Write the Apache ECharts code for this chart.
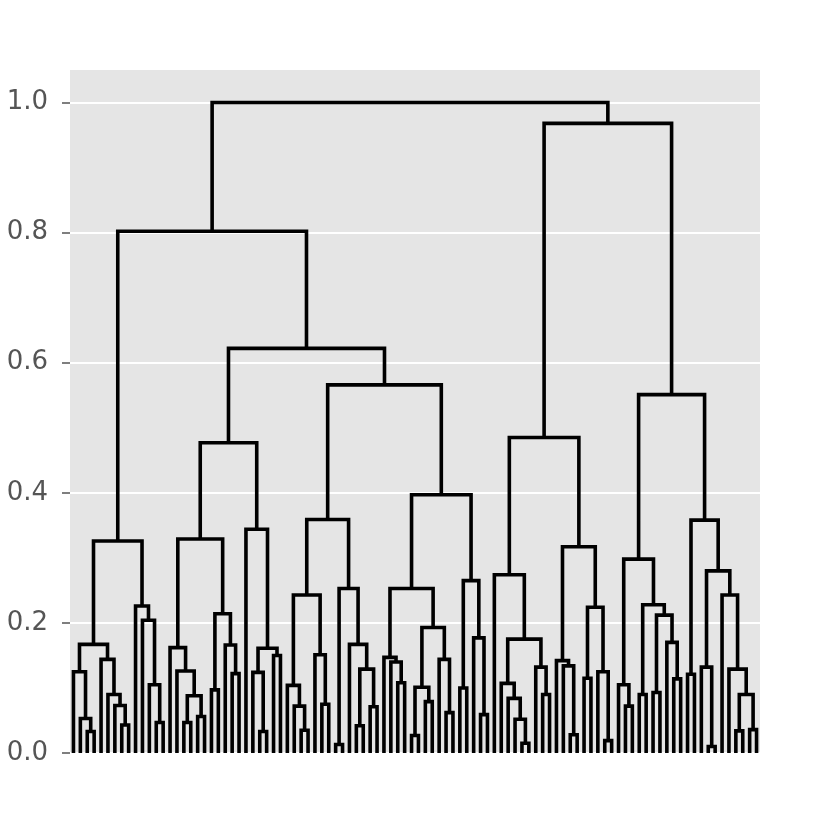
<!DOCTYPE html>
<html>
<head>
<meta charset="utf-8">
<script src="https://cdn.jsdelivr.net/npm/echarts@6/dist/echarts.min.js"></script>
<style>html,body{margin:0;padding:0;background:#fff;}#chart{width:830px;height:822px;}</style>
</head>
<body>
<div id="chart"></div>
<script>
// Dendrogram: 100 leaves (ids 0..99), merges create ids 100..198 in order.
const leafCount = 100;
const mergeLeft = [2,1,0,7,6,5,4,102,12,11,10,9,107,
  16,18,113,15,14,20,23,22,118,117,27,26,29,124,25,122,
  33,32,31,36,35,131,38,41,43,136,40,135,134,
  47,46,45,49,51,145,54,53,147,144,56,59,58,152,151,141,128,112,
  65,64,63,62,68,67,163,61,72,71,70,74,77,76,171,170,167,
  80,79,82,84,87,86,180,179,178,89,92,91,96,98,189,95,94,188,186,185,176,159];
const mergeRight = [3,100,101,8,103,104,105,106,13,108,109,110,111,
  17,19,114,115,116,21,24,119,120,121,28,123,30,125,126,127,
  34,129,130,37,132,133,39,42,44,137,138,139,140,
  48,142,143,50,52,146,55,148,149,150,57,60,153,154,155,156,157,158,
  66,160,161,162,69,164,165,166,73,168,169,75,78,172,173,174,175,
  81,177,83,85,88,181,182,183,184,90,93,187,97,99,190,191,192,193,194,195,196,197];
const mergeHeight = [0.033,0.053,0.125,0.043,0.073,0.090,0.144,0.167,0.047,0.105,0.204,0.226,0.326,
  0.047,0.056,0.088,0.126,0.162,0.097,0.122,0.166,0.214,0.329,0.033,0.124,0.150,0.161,0.344,0.477,
  0.035,0.072,0.104,0.075,0.151,0.243,0.013,0.042,0.071,0.129,0.167,0.253,0.359,
  0.108,0.140,0.147,0.027,0.079,0.101,0.062,0.144,0.193,0.253,0.100,0.059,0.177,0.265,0.397,0.566,0.622,0.802,
  0.015,0.052,0.084,0.107,0.090,0.132,0.175,0.274,0.028,0.134,0.142,0.115,0.019,0.125,0.224,0.317,0.485,
  0.072,0.105,0.090,0.093,0.114,0.170,0.212,0.228,0.298,0.121,0.010,0.132,0.034,0.036,0.090,0.129,0.243,0.280,0.358,0.551,0.968,1.000];
const yTickValues = [0, 0.2, 0.4, 0.6, 0.8, 1.0];

// dendrogram layout (scipy convention: leaf i at 5 + 10*i)
const pos = [], hgt = [];
for (let i = 0; i < leafCount; i++) { pos.push(5 + 10 * i); hgt.push(0); }
const links = [];
for (let k = 0; k < mergeLeft.length; k++) {
  const a = mergeLeft[k], b = mergeRight[k], h = mergeHeight[k];
  links.push([pos[a], hgt[a], pos[b], hgt[b], h]);
  pos.push((pos[a] + pos[b]) / 2);
  hgt.push(h);
}

const chart = echarts.init(document.getElementById('chart'), null, {renderer: 'canvas'});
chart.setOption({
  backgroundColor: '#ffffff',
  animation: false,
  grid: {left: 70, right: 70, top: 70, bottom: 69, show: true, backgroundColor: '#E5E5E5', borderWidth: 0},
  xAxis: {
    type: 'value', min: 0, max: leafCount * 10,
    axisLine: {show: false}, axisTick: {show: false}, axisLabel: {show: false}, splitLine: {show: false}
  },
  yAxis: {
    type: 'value', min: 0, max: 1.05,
    axisLine: {show: false},
    axisTick: {show: true, length: 8, customValues: yTickValues, lineStyle: {color: '#555555', width: 1.5}},
    axisLabel: {
      customValues: yTickValues, margin: 22, color: '#555555',
      fontFamily: 'DejaVu Sans', fontSize: 26,
      formatter: v => v.toFixed(1)
    },
    splitLine: {show: true, lineStyle: {color: '#ffffff', width: 2}}
  },
  series: [{
    type: 'custom',
    data: links,
    encode: {x: [0, 2], y: [1, 3, 4]},
    renderItem: function (params, api) {
      const p1 = api.coord([api.value(0), api.value(1)]);
      const p2 = api.coord([api.value(0), api.value(4)]);
      const p3 = api.coord([api.value(2), api.value(4)]);
      const p4 = api.coord([api.value(2), api.value(3)]);
      return {
        type: 'polyline',
        shape: {points: [p1, p2, p3, p4]},
        style: {stroke: '#000000', lineWidth: 3.6, fill: null, lineJoin: 'miter', lineCap: 'butt'}
      };
    }
  }]
});
</script>
</body>
</html>
